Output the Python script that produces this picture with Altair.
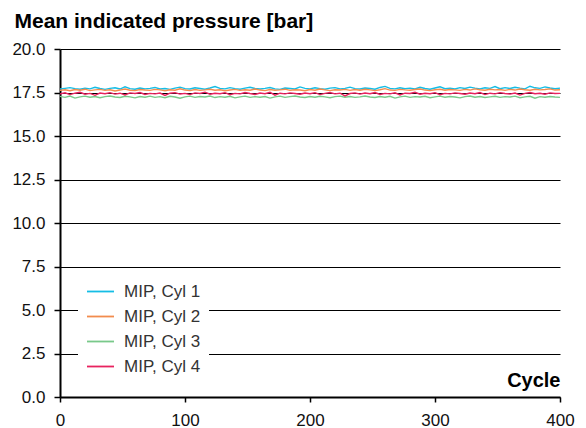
import altair as alt
import pandas as pd

series_names = ["MIP, Cyl 1", "MIP, Cyl 2", "MIP, Cyl 3", "MIP, Cyl 4"]
series_colors = ["#15BDE5", "#F28C4E", "#79C98A", "#E8235F"]

cycles = list(range(0, 401, 4))

cyl1 = [17.70,17.74,17.78,17.72,17.69,17.75,17.71,17.80,17.73,17.68,
        17.74,17.77,17.70,17.83,17.72,17.69,17.76,17.71,17.74,17.79,
        17.70,17.73,17.68,17.75,17.81,17.72,17.70,17.77,17.73,17.69,
        17.76,17.84,17.74,17.71,17.78,17.72,17.69,17.75,17.80,17.73,
        17.70,17.74,17.79,17.71,17.68,17.76,17.73,17.70,17.82,17.74,
        17.71,17.77,17.72,17.69,17.75,17.78,17.71,17.74,17.81,17.72,
        17.70,17.76,17.73,17.69,17.79,17.85,17.74,17.71,17.77,17.72,
        17.75,17.70,17.80,17.73,17.69,17.76,17.83,17.72,17.74,17.70,
        17.78,17.73,17.81,17.75,17.71,17.77,17.74,17.84,17.72,17.78,
        17.73,17.80,17.75,17.71,17.86,17.77,17.74,17.82,17.76,17.72,
        17.75]

cyl2 = [17.62,17.66,17.60,17.67,17.63,17.69,17.61,17.65,17.68,17.62,
        17.66,17.59,17.64,17.70,17.63,17.61,17.67,17.64,17.62,17.68,
        17.65,17.60,17.66,17.63,17.71,17.64,17.61,17.67,17.62,17.65,
        17.69,17.63,17.66,17.60,17.64,17.68,17.62,17.66,17.63,17.70,
        17.64,17.61,17.67,17.63,17.65,17.69,17.62,17.66,17.64,17.60,
        17.67,17.63,17.70,17.65,17.61,17.66,17.64,17.68,17.62,17.67,
        17.63,17.69,17.65,17.61,17.66,17.72,17.64,17.62,17.68,17.65,
        17.63,17.67,17.70,17.64,17.61,17.66,17.69,17.63,17.67,17.65,
        17.62,17.68,17.64,17.71,17.66,17.63,17.69,17.65,17.67,17.62,
        17.68,17.64,17.70,17.66,17.63,17.69,17.65,17.67,17.71,17.64,
        17.66]

cyl3 = [17.28,17.22,17.30,17.18,17.25,17.29,17.23,17.27,17.20,17.26,
        17.30,17.24,17.21,17.28,17.25,17.19,17.27,17.23,17.29,17.22,
        17.26,17.20,17.28,17.24,17.17,17.25,17.29,17.22,17.27,17.24,
        17.30,17.21,17.26,17.23,17.28,17.19,17.25,17.29,17.22,17.26,
        17.23,17.27,17.18,17.25,17.29,17.22,17.26,17.30,17.24,17.21,
        17.27,17.23,17.28,17.25,17.20,17.26,17.29,17.23,17.27,17.22,
        17.25,17.30,17.24,17.21,17.27,17.23,17.28,17.18,17.25,17.29,
        17.22,17.26,17.24,17.28,17.20,17.25,17.29,17.23,17.27,17.24,
        17.19,17.26,17.30,17.23,17.27,17.21,17.25,17.28,17.22,17.26,
        17.24,17.29,17.20,17.25,17.28,17.17,17.26,17.23,17.27,17.24,
        17.22]

cyl4 = [17.42,17.48,17.38,17.46,17.51,17.40,17.45,17.34,17.47,17.43,
        17.49,17.41,17.46,17.36,17.48,17.44,17.50,17.39,17.45,17.42,
        17.47,17.33,17.46,17.49,17.41,17.45,17.38,17.48,17.44,17.52,
        17.40,17.46,17.43,17.49,17.37,17.45,17.42,17.50,17.44,17.39,
        17.47,17.43,17.51,17.35,17.46,17.42,17.48,17.44,17.40,17.47,
        17.43,17.49,17.38,17.45,17.50,17.42,17.46,17.30,17.44,17.48,
        17.41,17.47,17.43,17.50,17.39,17.45,17.42,17.48,17.36,17.46,
        17.44,17.51,17.40,17.46,17.43,17.49,17.37,17.45,17.42,17.48,
        17.44,17.40,17.47,17.43,17.50,17.38,17.46,17.42,17.49,17.44,
        17.41,17.47,17.35,17.45,17.50,17.43,17.46,17.40,17.48,17.44,
        17.45]

y_ticks = [0, 2.5, 5, 7.5, 10, 12.5, 15, 17.5, 20]
x_ticks = [0, 100, 200, 300, 400]

rows = []
for name, vals in zip(series_names, [cyl1, cyl2, cyl3, cyl4]):
    for c, v in zip(cycles, vals):
        rows.append({"cycle": c, "value": v, "series": name})
df = pd.DataFrame(rows)

FONT = "Liberation Sans"
LABEL_SIZE = 17
TITLE_SIZE = 21

chart = alt.Chart(df).mark_line(strokeWidth=1.4).encode(
    x=alt.X("cycle:Q",
            scale=alt.Scale(domain=[0, 400], nice=False, zero=False),
            axis=alt.Axis(values=x_ticks, grid=False, title="Cycle",
                          titleAngle=0, titleAlign="right", titleBaseline="alphabetic",
                          titleX=500, titleY=-11, titleFontSize=20, titleFontWeight="bold",
                          titleFont=FONT, titleColor="#000",
                          labelFontSize=LABEL_SIZE, labelFont=FONT, labelColor="#111",
                          labelPadding=10, labelFlush=False,
                          tickSize=5, tickWidth=1.5, tickColor="#000",
                          domainWidth=2, domainColor="#000")),
    y=alt.Y("value:Q",
            scale=alt.Scale(domain=[0, 20], nice=False),
            axis=alt.Axis(values=y_ticks, format=".1f", grid=True,
                          gridColor="#000", gridWidth=1, gridOpacity=1,
                          title="Mean indicated pressure [bar]",
                          titleAngle=0, titleAlign="left", titleBaseline="alphabetic",
                          titleX=-46, titleY=-22, titleFontSize=TITLE_SIZE, titleFontWeight="bold",
                          titleFont=FONT, titleColor="#000",
                          labelFontSize=LABEL_SIZE, labelFont=FONT, labelColor="#111",
                          labelPadding=9,
                          tickSize=6, tickWidth=1.5, tickColor="#000",
                          domainWidth=2, domainColor="#000")),
    color=alt.Color("series:N",
                    scale=alt.Scale(domain=series_names, range=series_colors),
                    legend=alt.Legend(title=None, orient="none", legendX=18, legendY=220,
                                      fillColor="white", padding=8,
                                      symbolType="stroke", symbolSize=729,
                                      symbolStrokeWidth=1.8,
                                      labelFontSize=LABEL_SIZE, labelFont=FONT, labelColor="#333",
                                      labelOffset=9, rowPadding=2)),
).properties(
    width=500, height=348,
    autosize=alt.AutoSizeParams(type="none"),
    padding={"left": 52, "top": 41, "right": 18, "bottom": 31},
).configure_view(stroke=None)

chart.save("out.html", embed_options={"renderer": "svg", "actions": False})
